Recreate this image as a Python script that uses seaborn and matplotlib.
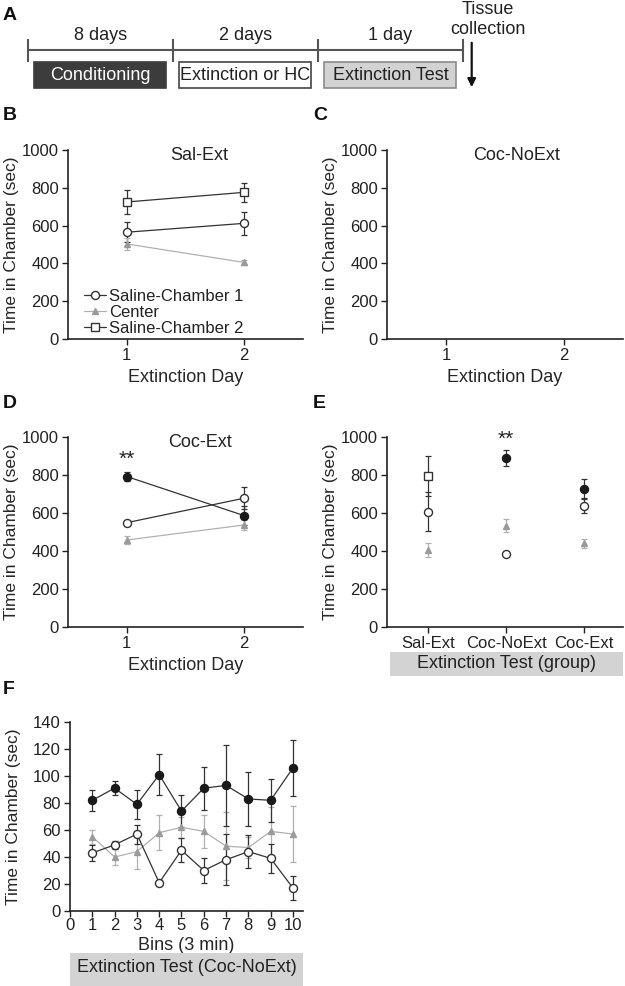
import matplotlib
matplotlib.use("Agg")
import matplotlib.pyplot as plt
import seaborn as sns
from matplotlib.patches import Rectangle

# ---- data ----
# A: timeline
stages = ["Conditioning", "Extinction or HC", "Extinction Test"]
durations = ["8 days", "2 days", "1 day"]

days = [1, 2]

# B: Sal-Ext (mean, SEM)
sal_ch1 = [565, 612]
sal_ch1_err = [53, 60]
sal_center = [503, 405]
sal_center_err = [30, 15]
sal_ch2 = [725, 776]
sal_ch2_err = [63, 52]

# D: Coc-Ext
cext_coc = [792, 586]
cext_coc_err = [25, 50]
cext_sal = [549, 678]
cext_sal_err = [10, 58]
cext_center = [458, 537]
cext_center_err = [20, 25]

# E: extinction test per group
groups = ["Sal-Ext", "Coc-NoExt", "Coc-Ext"]
test_paired = [794, 891, 727]      # Saline-Chamber 2 for Sal-Ext, Cocaine otherwise
test_paired_err = [107, 42, 52]
test_unpaired = [606, 384, 639]    # Saline-Chamber 1 / Saline
test_unpaired_err = [102, 10, 40]
test_center = [405, 533, 440]
test_center_err = [35, 35, 25]

# F: 3-min bins, Coc-NoExt
bins = [1, 2, 3, 4, 5, 6, 7, 8, 9, 10]
f_coc = [82, 91, 79, 101, 74, 91, 93, 83, 82, 106]
f_coc_err = [8, 5, 11, 15, 12, 16, 30, 20, 16, 21]
f_sal = [43, 49, 57, 21, 45, 30, 38, 44, 39, 17]
f_sal_err = [6, 3, 7, 2, 9, 9, 19, 12, 11, 9]
f_center = [55, 40, 44, 58, 62, 59, 48, 47, 59, 57]
f_center_err = [5, 6, 13, 13, 8, 12, 25, 8, 18, 21]

# ---- style ----
sns.set_theme(style="ticks")
plt.rcParams["font.family"] = ["Liberation Sans", "DejaVu Sans"]
plt.rcParams["font.size"] = 12
plt.rcParams["text.color"] = "#222222"

DARK = "#333333"
GREY = "#9a9a9a"
GREY_LINE = "#b0b0b0"

STYLES = {
    "coc": dict(marker="o", mfc="#1a1a1a", mec="#1a1a1a", ms=5.8, color=DARK),
    "sal": dict(marker="o", mfc="white", mec=DARK, ms=5.8, color=DARK),
    "sq": dict(marker="s", mfc="white", mec=DARK, ms=5.8, color=DARK),
    "cen": dict(marker="^", mfc=GREY, mec=GREY, ms=4.0, color=GREY_LINE),
}

W, H = 625, 986


def rect(l, t, r, b):
    return [l / W, 1 - b / H, (r - l) / W, (b - t) / H]


def series(ax, x, y, err, kind, label=None, line=True):
    s = STYLES[kind]
    ecol = GREY_LINE if kind == "cen" else DARK
    ax.errorbar(x, y, yerr=err, fmt="none", ecolor=ecol, elinewidth=0.9,
                capsize=2, capthick=0.9, zorder=2)
    sns.lineplot(x=x, y=y, ax=ax, color=s["color"], marker=s["marker"],
                 markerfacecolor=s["mfc"], markeredgecolor=s["mec"],
                 markersize=s["ms"], markeredgewidth=1.0,
                 linewidth=0.9 if line else 0, linestyle="-" if line else "",
                 label=label, zorder=3)


def style_axes(ax, ymax, ystep, ypad=2):
    sns.despine(ax=ax)
    for sp in ["left", "bottom"]:
        ax.spines[sp].set_linewidth(1.2)
        ax.spines[sp].set_color("#222222")
    ax.set_ylim(0, ymax)
    ax.set_yticks(range(0, ymax + 1, ystep))
    ax.tick_params(axis="both", length=4, width=1, labelsize=12, colors="#222222", pad=2.5)
    ax.set_ylabel("Time in Chamber (sec)", fontsize=12.5, labelpad=ypad)


fig = plt.figure(figsize=(6.25, 9.86), dpi=100)

# ---- A: timeline ----
ax_a = fig.add_axes([0, 1 - 100 / H, 1, 100 / H])
ax_a.set_xlim(-28 / 145, (W - 28) / 145)
ax_a.set_ylim(100, 0)
ax_a.axis("off")
ax_a.hlines(50, 0, len(stages), color="#555555", lw=1.5)
ax_a.vlines(range(len(stages) + 1), 39, 62, color="#555555", lw=1.5)
box_fill = ["#3c3c3c", "white", "#d2d2d2"]
box_edge = ["#3c3c3c", "#444444", "#8a8a8a"]
box_text = ["white", "#222222", "#222222"]
for i, (st, du) in enumerate(zip(stages, durations)):
    ax_a.text(i + 0.5, 36, du, ha="center", va="center", fontsize=13)
    ax_a.add_patch(Rectangle((i + 0.04, 62), 0.91, 26, facecolor=box_fill[i],
                             edgecolor=box_edge[i], lw=1.2))
    ax_a.text(i + 0.5, 75.5, st, ha="center", va="center", fontsize=13, color=box_text[i])
ax_a.text(3.17, 9, "Tissue", ha="center", va="center", fontsize=13)
ax_a.text(3.17, 29, "collection", ha="center", va="center", fontsize=13)
ax_a.annotate("", xy=(3.06, 90), xytext=(3.06, 40),
              arrowprops=dict(arrowstyle="-|>", color="#111111", lw=1.6,
                              mutation_scale=12))

# ---- B: Sal-Ext ----
ax_b = fig.add_axes(rect(68, 150, 303, 339))
series(ax_b, days, sal_ch1, sal_ch1_err, "sal", "Saline-Chamber 1")
series(ax_b, days, sal_center, sal_center_err, "cen", "Center")
series(ax_b, days, sal_ch2, sal_ch2_err, "sq", "Saline-Chamber 2")
ax_b.set_xlim(0.5, 2.5)
ax_b.set_xticks(days)
ax_b.set_xlabel("Extinction Day", fontsize=13, labelpad=4)
style_axes(ax_b, 1000, 200)
ax_b.text(0.56, 0.97, "Sal-Ext", transform=ax_b.transAxes, ha="center", va="center", fontsize=13)
ax_b.legend(loc="lower left", bbox_to_anchor=(0.02, -0.045), frameon=False, fontsize=12,
            handlelength=1.3, handletextpad=0.2, labelspacing=0.05, borderpad=0.2)

# ---- C: Coc-NoExt (no extinction sessions) ----
ax_c = fig.add_axes(rect(387, 150, 623, 339))
series(ax_c, [], [], [], "coc", "Cocaine")
series(ax_c, [], [], [], "cen", "Center")
series(ax_c, [], [], [], "sal", "Saline")
ax_c.set_xlim(0.5, 2.5)
ax_c.set_xticks(days)
ax_c.set_xlabel("Extinction Day", fontsize=13, labelpad=4)
style_axes(ax_c, 1000, 200)
ax_c.text(0.55, 0.97, "Coc-NoExt", transform=ax_c.transAxes, ha="center", va="center", fontsize=13)
ax_c.legend(loc="lower left", bbox_to_anchor=(0.02, -0.045), frameon=False, fontsize=12,
            handlelength=1.3, handletextpad=0.2, labelspacing=0.05, borderpad=0.2)

# ---- D: Coc-Ext ----
ax_d = fig.add_axes(rect(68, 437, 303, 627))
series(ax_d, days, cext_coc, cext_coc_err, "coc")
series(ax_d, days, cext_sal, cext_sal_err, "sal")
series(ax_d, days, cext_center, cext_center_err, "cen")
ax_d.set_xlim(0.5, 2.5)
ax_d.set_xticks(days)
ax_d.set_xlabel("Extinction Day", fontsize=13, labelpad=4)
style_axes(ax_d, 1000, 200)
ax_d.text(0.56, 0.97, "Coc-Ext", transform=ax_d.transAxes, ha="center", va="center", fontsize=13)
ax_d.text(days[0], 885, "**", ha="center", va="center", fontsize=15)

# ---- E: extinction test by group ----
ax_e = fig.add_axes(rect(387, 437, 623, 627))
gx = list(range(len(groups)))
series(ax_e, gx[:1], test_paired[:1], test_paired_err[:1], "sq", line=False)
series(ax_e, gx[1:], test_paired[1:], test_paired_err[1:], "coc", line=False)
series(ax_e, gx, test_unpaired, test_unpaired_err, "sal", line=False)
series(ax_e, gx, test_center, test_center_err, "cen", line=False)
ax_e.set_xlim(-0.53, 2.5)
ax_e.set_xticks(gx)
ax_e.set_xticklabels(groups)
style_axes(ax_e, 1000, 200)
ax_e.text(gx[1], 990, "**", ha="center", va="center", fontsize=15)

box_e = fig.add_axes(rect(390, 652, 623, 676))
box_e.set_facecolor("#d3d3d3")
box_e.set_xticks([])
box_e.set_yticks([])
for sp in box_e.spines.values():
    sp.set_visible(False)
box_e.text(0.5, 0.5, "Extinction Test (group)", ha="center", va="center", fontsize=13)

# ---- F: bins ----
ax_f = fig.add_axes(rect(70, 722, 303, 911))
series(ax_f, bins, f_center, f_center_err, "cen")
series(ax_f, bins, f_coc, f_coc_err, "coc")
series(ax_f, bins, f_sal, f_sal_err, "sal")
ax_f.set_xlim(0, 10.45)
ax_f.set_xticks(range(0, 11))
ax_f.set_xlabel("Bins (3 min)", fontsize=13, labelpad=3)
style_axes(ax_f, 140, 20, ypad=9)
ax_f.tick_params(axis="x", pad=1)

box_f = fig.add_axes(rect(70, 953, 303, 986))
box_f.set_facecolor("#d3d3d3")
box_f.set_xticks([])
box_f.set_yticks([])
for sp in box_f.spines.values():
    sp.set_visible(False)
box_f.text(0.5, 0.55, "Extinction Test (Coc-NoExt)", ha="center", va="center", fontsize=13)

# ---- panel letters ----
for letter, (px, py) in {"A": (3, 15), "B": (3, 115), "C": (313, 115),
                         "D": (3, 404), "E": (313, 404), "F": (3, 690)}.items():
    fig.text(px / W, 1 - py / H, letter, fontsize=14, fontweight="bold",
             ha="left", va="center", color="#111111")

fig.savefig("out.png", dpi=100)
